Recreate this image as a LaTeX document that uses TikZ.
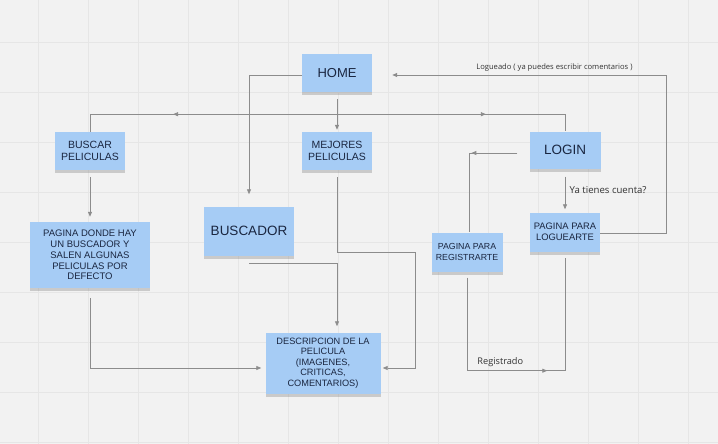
\documentclass[tikz,border=0pt]{standalone}
\usepackage{fontspec}
\setmainfont{Liberation Sans}
\newfontfamily\notefont{Open Sans}
\usetikzlibrary{arrows.meta,decorations.markings,shadows}
\definecolor{board}{HTML}{F2F2F2}
\definecolor{gridgray}{HTML}{E6E6E6}
\definecolor{sticky}{HTML}{A6CCF5}
\definecolor{linegray}{HTML}{8C8C8C}
\definecolor{inkdark}{HTML}{1A2640}

\begin{document}
\begin{tikzpicture}[
    x=1pt, y=-1pt,
    note/.style={fill=sticky, text=inkdark, inner sep=0pt, align=center,
        drop shadow={shadow xshift=0pt, shadow yshift=-3pt, opacity=0.35}},
    conn/.style={draw=linegray, line width=0.8pt},
    arrow/.style={conn, -{Triangle[length=5pt, width=4pt]}},
    midarrow/.style={conn, postaction={decorate}, decoration={markings,
        mark=at position #1 with {\arrow[linegray]{Triangle[length=5pt, width=4pt]}}}},
    lbl/.style={text=black!80, font=\notefont\fontsize{9.6}{11}\selectfont}
]
% board and grid
\fill[board] (0,0) rectangle (718,444);
\useasboundingbox (0,0) rectangle (718,444);
\foreach \x in {38,88,...,688} \draw[gridgray, line width=0.6pt] (\x,0) -- (\x,444);
\foreach \y in {42,92,...,442} \draw[gridgray, line width=0.6pt] (0,\y) -- (718,\y);

% stickies
\node[note, minimum width=70pt, minimum height=38pt, font=\fontsize{13}{15}\selectfont] (home) at (337,73) {HOME};
\node[note, minimum width=70pt, minimum height=38pt, font=\fontsize{10.5}{11.7}\selectfont] (buscar) at (90,151) {BUSCAR\\PELICULAS};
\node[note, minimum width=70pt, minimum height=38pt, font=\fontsize{10.5}{11.7}\selectfont] (mejores) at (337,151) {MEJORES\\PELICULAS};
\node[note, minimum width=71pt, minimum height=37pt, font=\fontsize{13.5}{15}\selectfont] (login) at (565,150) {LOGIN};
\node[note, minimum width=120pt, minimum height=66pt, font=\fontsize{9.5}{10.8}\selectfont] (pagina) at (90,255) {PAGINA DONDE HAY\\UN BUSCADOR Y\\SALEN ALGUNAS\\PELICULAS POR\\DEFECTO};
\node[note, minimum width=90pt, minimum height=49pt, font=\fontsize{13.5}{15}\selectfont] (buscador) at (249,231) {BUSCADOR};
\node[note, minimum width=115pt, minimum height=61pt, font=\fontsize{9.2}{10.4}\selectfont] (desc) at (323,363) {DESCRIPCION DE LA\\PELICULA\\(IMAGENES,\\CRITICAS,\\COMENTARIOS)};
\node[note, minimum width=71pt, minimum height=39pt, font=\fontsize{8.8}{10.4}\selectfont] (registrarte) at (467,252) {PAGINA PARA\\REGISTRARTE};
\node[note, minimum width=70pt, minimum height=39pt, font=\fontsize{9.4}{10.8}\selectfont] (loguearte) at (565,232) {PAGINA PARA\\LOGUEARTE};

% connectors
\draw[arrow, shorten >=12pt] ([yshift=-2pt]home.west) -| (buscador.north);
\draw[arrow, shorten <=7pt, shorten >=2pt] (home.south) -- (mejores.north);
\draw[midarrow=0.64] ([yshift=-7pt]home.south) -- ++(0,15) -| (buscar.north);
\draw[midarrow=0.63] ([yshift=-7pt]home.south) -- ++(0,15) -| (login.north);
\draw[arrow, shorten <=7pt, shorten >=5pt] (buscar.south) -- (pagina.north);
\draw[arrow, shorten <=7pt, shorten >=2pt] (mejores.south) |- ++(78,82) |- ([yshift=-5pt]desc.east);
\draw[arrow, shorten >=6pt] ([yshift=-8pt]buscador.south) -| ([xshift=14pt]desc.north);
\draw[arrow, shorten >=4pt] ([yshift=-10pt]pagina.south) |- ([yshift=-5pt]desc.west);
\draw[midarrow=0.36] ([xshift=-12pt, yshift=-3pt]login.west) -| ([xshift=2pt]registrarte.north);
\draw[arrow, shorten <=8pt, shorten >=3pt] (login.south) -- node[right, lbl, xshift=1pt] {Ya tienes cuenta?} (loguearte.north);
\draw[arrow, shorten >=20pt] ([yshift=-1.5pt]loguearte.east) -- ++(66,0)
    |- node[pos=0.69, above, lbl, font=\notefont\fontsize{7.6}{9}\selectfont] {Logueado ( ya puedes escribir comentarios )} ([yshift=-2pt]home.east);
\draw[midarrow=0.57] ([yshift=-6pt]registrarte.south) -- ++(0,93)
    -| node[pos=0.17, above, lbl, font=\notefont\fontsize{9.2}{11}\selectfont] {Registrado} ([yshift=-6pt]loguearte.south);
\end{tikzpicture}
\end{document}
